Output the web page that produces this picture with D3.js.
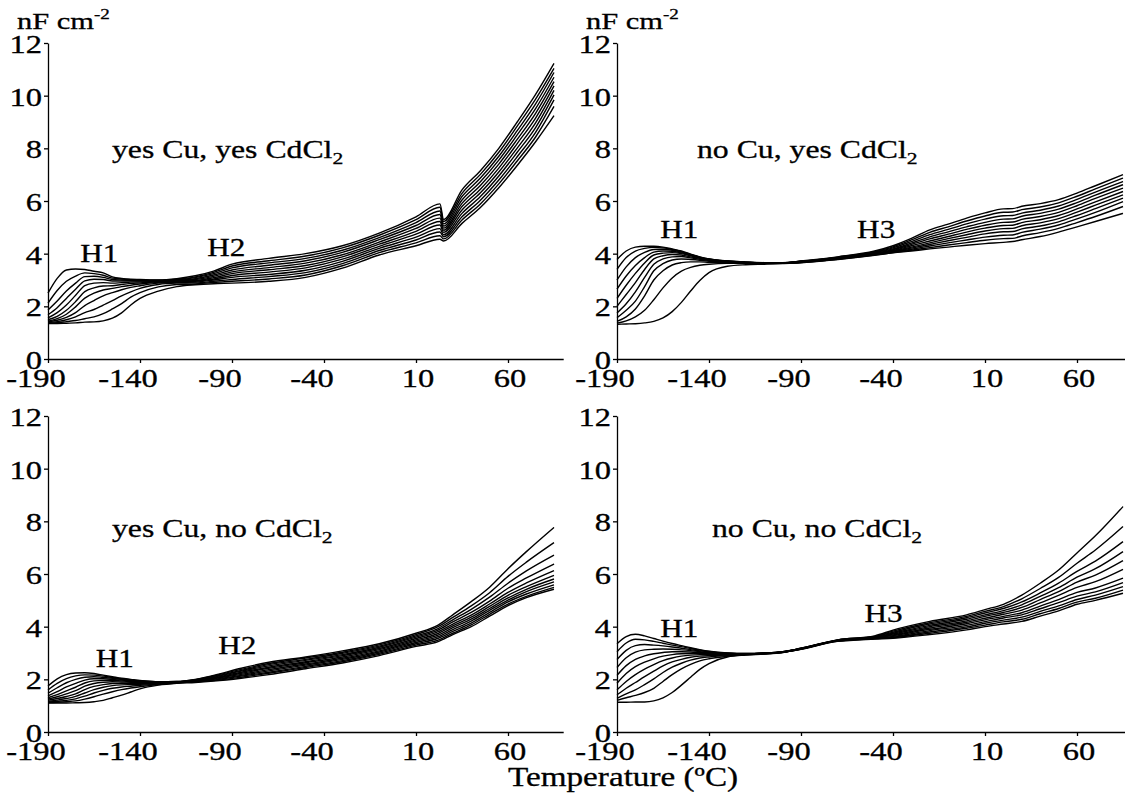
<!DOCTYPE html>
<html>
<head>
<meta charset="utf-8">
<script src="https://cdn.jsdelivr.net/npm/d3@7"></script>
<style>
  body { margin: 0; background: #fff; }
  svg { display: block; }
  text { font-family: "Liberation Serif", "Times New Roman", serif; fill: #000; stroke: #000; stroke-width: 0.3; }
</style>
</head>
<body>
<svg id="fig" width="1125" height="803"></svg>
<script>
// Axis ticks shared by all four panels
const tempTicks = [-190, -140, -90, -40, 10, 60];
const capTicks = [0, 2, 4, 6, 8, 10, 12];

// Capacitance (nF cm^-2) vs temperature (°C); each row lists the 11 frequency
// curves at one temperature, from the lowest frequency (top) to the highest.

// yes Cu, yes CdCl2
const tempYesCuYesCd = [-190,-185,-180,-175,-170,-165,-160,-155,-150,-145,-140,-130,-120,-110,-100,-90,-70,-50,-30,-10,10,23,25,35,45,55,65,75,85];
const capYesCuYesCd = [
  [2.50, 2.12, 1.86, 1.68, 1.56, 1.49, 1.44, 1.41, 1.38, 1.36, 1.35],
  [3.06, 2.60, 2.20, 1.95, 1.76, 1.62, 1.53, 1.47, 1.42, 1.38, 1.35],
  [3.38, 2.95, 2.58, 2.30, 2.05, 1.85, 1.70, 1.58, 1.49, 1.42, 1.36],
  [3.42, 3.15, 2.88, 2.65, 2.42, 2.18, 1.98, 1.76, 1.60, 1.46, 1.37],
  [3.40, 3.27, 3.13, 2.97, 2.79, 2.56, 2.31, 2.03, 1.76, 1.53, 1.40],
  [3.33, 3.24, 3.14, 3.03, 2.88, 2.70, 2.50, 2.22, 1.88, 1.60, 1.41],
  [3.27, 3.18, 3.10, 3.02, 2.90, 2.77, 2.62, 2.40, 2.05, 1.72, 1.45],
  [3.12, 3.07, 3.02, 2.96, 2.88, 2.78, 2.68, 2.52, 2.22, 1.90, 1.55],
  [3.06, 3.04, 3.00, 2.96, 2.90, 2.83, 2.75, 2.63, 2.40, 2.10, 1.75],
  [3.03, 3.01, 2.99, 2.96, 2.92, 2.87, 2.80, 2.72, 2.55, 2.35, 2.05],
  [3.02, 3.00, 2.98, 2.96, 2.93, 2.89, 2.85, 2.78, 2.68, 2.52, 2.30],
  [3.00, 2.99, 2.98, 2.97, 2.95, 2.93, 2.91, 2.88, 2.83, 2.74, 2.58],
  [3.05, 3.03, 3.01, 2.99, 2.97, 2.95, 2.93, 2.91, 2.88, 2.83, 2.75],
  [3.16, 3.12, 3.09, 3.05, 3.02, 2.98, 2.95, 2.92, 2.89, 2.85, 2.82],
  [3.34, 3.29, 3.24, 3.19, 3.14, 3.09, 3.04, 3.00, 2.95, 2.91, 2.86],
  [3.60, 3.53, 3.46, 3.38, 3.31, 3.24, 3.17, 3.10, 3.02, 2.95, 2.88],
  [3.82, 3.73, 3.65, 3.56, 3.47, 3.39, 3.30, 3.21, 3.13, 3.04, 2.95],
  [4.00, 3.91, 3.82, 3.73, 3.64, 3.55, 3.46, 3.37, 3.28, 3.19, 3.10],
  [4.30, 4.22, 4.13, 4.05, 3.96, 3.88, 3.79, 3.71, 3.62, 3.54, 3.45],
  [4.78, 4.70, 4.61, 4.53, 4.44, 4.36, 4.28, 4.20, 4.12, 4.04, 3.95],
  [5.40, 5.29, 5.18, 5.07, 4.96, 4.85, 4.74, 4.63, 4.52, 4.41, 4.30],
  [5.89, 5.76, 5.62, 5.49, 5.35, 5.22, 5.09, 4.95, 4.82, 4.68, 4.55],
  [5.30, 5.22, 5.13, 5.05, 4.97, 4.89, 4.81, 4.72, 4.64, 4.56, 4.48],
  [6.42, 6.29, 6.17, 6.04, 5.91, 5.79, 5.66, 5.53, 5.40, 5.28, 5.15],
  [7.15, 7.01, 6.87, 6.73, 6.59, 6.45, 6.31, 6.17, 6.03, 5.89, 5.75],
  [8.00, 7.85, 7.70, 7.55, 7.40, 7.25, 7.10, 6.95, 6.80, 6.65, 6.50],
  [9.00, 8.84, 8.67, 8.51, 8.34, 8.18, 8.01, 7.85, 7.68, 7.52, 7.35],
  [10.05, 9.87, 9.69, 9.51, 9.33, 9.15, 8.97, 8.79, 8.61, 8.43, 8.25],
  [11.23, 11.04, 10.88, 10.70, 10.53, 10.37, 10.20, 10.03, 9.84, 9.59, 9.24]
];

// no Cu, yes CdCl2
const tempNoCuYesCd = [-190,-185,-180,-175,-170,-165,-160,-155,-150,-145,-140,-130,-120,-110,-100,-90,-70,-50,-40,-30,-20,-10,0,10,20,25,30,40,50,60,70,85];
const capNoCuYesCd = [
  [3.78, 3.40, 3.00, 2.65, 2.30, 2.00, 1.75, 1.57, 1.43, 1.36, 1.32],
  [4.10, 3.85, 3.50, 3.15, 2.80, 2.45, 2.10, 1.85, 1.60, 1.45, 1.33],
  [4.25, 4.10, 3.85, 3.55, 3.25, 2.90, 2.55, 2.20, 1.90, 1.60, 1.34],
  [4.28, 4.20, 4.05, 3.85, 3.65, 3.40, 3.10, 2.75, 2.40, 1.85, 1.37],
  [4.28, 4.24, 4.16, 4.06, 3.95, 3.80, 3.60, 3.35, 3.00, 2.25, 1.43],
  [4.25, 4.22, 4.17, 4.10, 4.02, 3.92, 3.80, 3.62, 3.35, 2.70, 1.56],
  [4.18, 4.16, 4.13, 4.09, 4.04, 3.97, 3.88, 3.76, 3.57, 3.08, 1.80],
  [4.10, 4.08, 4.06, 4.03, 4.00, 3.95, 3.89, 3.80, 3.66, 3.34, 2.15],
  [3.98, 3.97, 3.96, 3.94, 3.92, 3.88, 3.84, 3.78, 3.69, 3.48, 2.58],
  [3.88, 3.87, 3.86, 3.85, 3.84, 3.82, 3.79, 3.75, 3.69, 3.56, 2.98],
  [3.80, 3.80, 3.79, 3.78, 3.77, 3.76, 3.74, 3.71, 3.67, 3.60, 3.28],
  [3.72, 3.72, 3.71, 3.71, 3.70, 3.70, 3.69, 3.68, 3.66, 3.63, 3.52],
  [3.68, 3.68, 3.68, 3.67, 3.67, 3.67, 3.66, 3.66, 3.65, 3.63, 3.58],
  [3.66, 3.66, 3.66, 3.65, 3.65, 3.65, 3.64, 3.64, 3.63, 3.62, 3.60],
  [3.66, 3.66, 3.65, 3.65, 3.65, 3.64, 3.64, 3.64, 3.63, 3.63, 3.62],
  [3.72, 3.71, 3.71, 3.70, 3.70, 3.69, 3.69, 3.68, 3.67, 3.66, 3.65],
  [3.88, 3.87, 3.86, 3.85, 3.84, 3.83, 3.82, 3.81, 3.80, 3.79, 3.78],
  [4.10, 4.08, 4.06, 4.04, 4.02, 4.00, 3.99, 3.98, 3.97, 3.95, 3.94],
  [4.30, 4.26, 4.22, 4.18, 4.15, 4.12, 4.10, 4.08, 4.06, 4.04, 4.03],
  [4.58, 4.52, 4.46, 4.40, 4.35, 4.30, 4.25, 4.21, 4.17, 4.13, 4.10],
  [4.90, 4.81, 4.72, 4.64, 4.56, 4.48, 4.41, 4.35, 4.29, 4.23, 4.18],
  [5.12, 5.02, 4.92, 4.83, 4.74, 4.65, 4.57, 4.49, 4.41, 4.33, 4.25],
  [5.35, 5.24, 5.13, 5.02, 4.92, 4.82, 4.72, 4.62, 4.52, 4.42, 4.32],
  [5.55, 5.43, 5.31, 5.19, 5.08, 4.97, 4.86, 4.75, 4.63, 4.51, 4.38],
  [5.70, 5.57, 5.44, 5.31, 5.19, 5.07, 4.95, 4.83, 4.70, 4.57, 4.43],
  [5.71, 5.58, 5.45, 5.32, 5.20, 5.08, 4.96, 4.84, 4.71, 4.58, 4.46],
  [5.80, 5.67, 5.54, 5.42, 5.30, 5.18, 5.06, 4.94, 4.81, 4.67, 4.53],
  [5.90, 5.77, 5.65, 5.53, 5.41, 5.29, 5.17, 5.05, 4.93, 4.80, 4.65],
  [6.05, 5.93, 5.81, 5.69, 5.57, 5.45, 5.33, 5.21, 5.09, 4.96, 4.82],
  [6.30, 6.18, 6.06, 5.94, 5.82, 5.70, 5.58, 5.45, 5.32, 5.18, 5.02],
  [6.58, 6.46, 6.34, 6.22, 6.10, 5.97, 5.84, 5.71, 5.57, 5.41, 5.22],
  [7.00, 6.87, 6.74, 6.62, 6.49, 6.36, 6.23, 6.11, 5.98, 5.79, 5.53]
];

// yes Cu, no CdCl2
const tempYesCuNoCd = [-190,-185,-180,-175,-170,-165,-160,-155,-150,-145,-140,-130,-120,-110,-100,-85,-70,-50,-30,-10,10,22,30,40,50,60,70,85];
const capYesCuNoCd = [
  [1.75, 1.60, 1.47, 1.37, 1.30, 1.25, 1.21, 1.17, 1.14, 1.12, 1.10],
  [2.02, 1.85, 1.68, 1.53, 1.42, 1.34, 1.27, 1.21, 1.17, 1.13, 1.10],
  [2.18, 2.03, 1.87, 1.71, 1.56, 1.45, 1.35, 1.27, 1.20, 1.15, 1.10],
  [2.24, 2.13, 2.00, 1.85, 1.70, 1.57, 1.45, 1.35, 1.26, 1.18, 1.11],
  [2.25, 2.17, 2.08, 1.97, 1.86, 1.74, 1.61, 1.48, 1.36, 1.25, 1.12],
  [2.22, 2.16, 2.10, 2.02, 1.94, 1.84, 1.73, 1.61, 1.48, 1.34, 1.15],
  [2.16, 2.12, 2.07, 2.02, 1.96, 1.89, 1.80, 1.70, 1.58, 1.44, 1.20],
  [2.10, 2.07, 2.04, 2.00, 1.96, 1.91, 1.84, 1.76, 1.66, 1.53, 1.30],
  [2.04, 2.02, 2.00, 1.97, 1.94, 1.90, 1.85, 1.79, 1.71, 1.61, 1.40],
  [2.00, 1.98, 1.96, 1.94, 1.92, 1.89, 1.85, 1.80, 1.74, 1.67, 1.52],
  [1.96, 1.95, 1.93, 1.92, 1.90, 1.88, 1.85, 1.81, 1.77, 1.72, 1.64],
  [1.91, 1.91, 1.90, 1.89, 1.88, 1.87, 1.86, 1.84, 1.82, 1.80, 1.78],
  [1.92, 1.92, 1.91, 1.91, 1.90, 1.90, 1.89, 1.88, 1.87, 1.86, 1.85],
  [2.00, 1.99, 1.98, 1.96, 1.95, 1.94, 1.93, 1.92, 1.91, 1.90, 1.88],
  [2.15, 2.13, 2.11, 2.08, 2.06, 2.04, 2.02, 2.00, 1.97, 1.95, 1.93],
  [2.42, 2.38, 2.34, 2.31, 2.27, 2.23, 2.19, 2.15, 2.12, 2.08, 2.04],
  [2.65, 2.60, 2.56, 2.51, 2.46, 2.42, 2.37, 2.32, 2.27, 2.23, 2.18],
  [2.85, 2.81, 2.76, 2.72, 2.67, 2.63, 2.58, 2.54, 2.49, 2.45, 2.40],
  [3.08, 3.03, 2.99, 2.94, 2.90, 2.85, 2.80, 2.76, 2.71, 2.67, 2.62],
  [3.35, 3.31, 3.26, 3.22, 3.17, 3.13, 3.08, 3.04, 2.99, 2.95, 2.90],
  [3.75, 3.70, 3.65, 3.60, 3.55, 3.50, 3.45, 3.40, 3.35, 3.30, 3.25],
  [4.06, 4.00, 3.93, 3.87, 3.81, 3.74, 3.68, 3.62, 3.56, 3.49, 3.43],
  [4.45, 4.35, 4.26, 4.18, 4.10, 4.03, 3.96, 3.89, 3.82, 3.75, 3.70],
  [4.95, 4.79, 4.66, 4.54, 4.44, 4.36, 4.29, 4.21, 4.13, 4.07, 4.00],
  [5.50, 5.29, 5.12, 4.97, 4.86, 4.77, 4.69, 4.62, 4.54, 4.47, 4.40],
  [6.20, 5.91, 5.65, 5.46, 5.30, 5.19, 5.09, 5.01, 4.94, 4.86, 4.80],
  [6.85, 6.45, 6.12, 5.85, 5.66, 5.52, 5.42, 5.33, 5.24, 5.15, 5.10],
  [7.77, 7.19, 6.72, 6.38, 6.13, 5.95, 5.81, 5.70, 5.59, 5.49, 5.42]
];

// no Cu, no CdCl2
const tempNoCuNoCd = [-190,-185,-180,-175,-170,-165,-160,-155,-150,-145,-140,-130,-120,-110,-100,-90,-70,-50,-40,-20,0,10,20,30,40,50,60,70,85];
const capNoCuNoCd = [
  [3.35, 3.05, 2.75, 2.45, 2.15, 1.85, 1.60, 1.41, 1.28, 1.20, 1.13],
  [3.62, 3.38, 3.10, 2.82, 2.52, 2.22, 1.92, 1.66, 1.45, 1.30, 1.13],
  [3.71, 3.52, 3.28, 3.03, 2.76, 2.48, 2.18, 1.88, 1.60, 1.39, 1.14],
  [3.65, 3.50, 3.32, 3.12, 2.89, 2.65, 2.39, 2.10, 1.80, 1.50, 1.14],
  [3.55, 3.44, 3.30, 3.14, 2.97, 2.78, 2.56, 2.31, 2.02, 1.66, 1.18],
  [3.45, 3.37, 3.27, 3.15, 3.02, 2.88, 2.71, 2.51, 2.26, 1.92, 1.30],
  [3.36, 3.30, 3.23, 3.14, 3.05, 2.94, 2.81, 2.66, 2.46, 2.18, 1.50],
  [3.28, 3.24, 3.18, 3.12, 3.05, 2.97, 2.88, 2.76, 2.61, 2.40, 1.78],
  [3.20, 3.17, 3.13, 3.09, 3.04, 2.98, 2.92, 2.84, 2.73, 2.57, 2.08],
  [3.13, 3.11, 3.08, 3.05, 3.02, 2.98, 2.94, 2.88, 2.81, 2.70, 2.38],
  [3.07, 3.06, 3.04, 3.02, 3.00, 2.97, 2.94, 2.90, 2.85, 2.78, 2.60],
  [3.00, 2.99, 2.99, 2.98, 2.97, 2.96, 2.94, 2.92, 2.90, 2.87, 2.85],
  [2.98, 2.98, 2.97, 2.97, 2.97, 2.96, 2.96, 2.95, 2.94, 2.93, 2.92],
  [3.00, 3.00, 2.99, 2.99, 2.99, 2.98, 2.98, 2.98, 2.97, 2.97, 2.96],
  [3.05, 3.05, 3.05, 3.04, 3.04, 3.04, 3.03, 3.03, 3.03, 3.02, 3.02],
  [3.18, 3.18, 3.17, 3.17, 3.17, 3.16, 3.16, 3.16, 3.15, 3.15, 3.14],
  [3.50, 3.50, 3.49, 3.49, 3.48, 3.48, 3.47, 3.47, 3.46, 3.45, 3.44],
  [3.65, 3.63, 3.62, 3.60, 3.59, 3.58, 3.57, 3.56, 3.55, 3.54, 3.53],
  [3.87, 3.83, 3.79, 3.75, 3.72, 3.69, 3.66, 3.63, 3.60, 3.58, 3.56],
  [4.20, 4.15, 4.10, 4.05, 4.00, 3.95, 3.90, 3.85, 3.80, 3.75, 3.70],
  [4.45, 4.39, 4.34, 4.28, 4.22, 4.17, 4.11, 4.05, 3.99, 3.94, 3.88],
  [4.65, 4.58, 4.52, 4.45, 4.39, 4.32, 4.26, 4.19, 4.13, 4.06, 4.00],
  [4.85, 4.76, 4.69, 4.61, 4.54, 4.47, 4.39, 4.33, 4.25, 4.18, 4.10],
  [5.20, 5.06, 4.94, 4.83, 4.73, 4.63, 4.53, 4.45, 4.36, 4.28, 4.20],
  [5.65, 5.45, 5.28, 5.15, 5.03, 4.90, 4.78, 4.68, 4.58, 4.49, 4.40],
  [6.15, 5.87, 5.65, 5.48, 5.33, 5.19, 5.03, 4.91, 4.79, 4.69, 4.60],
  [6.80, 6.41, 6.10, 5.88, 5.69, 5.49, 5.30, 5.16, 5.03, 4.93, 4.85],
  [7.45, 6.91, 6.49, 6.20, 5.96, 5.71, 5.47, 5.32, 5.20, 5.08, 5.00],
  [8.56, 7.80, 7.23, 6.85, 6.51, 6.18, 5.84, 5.67, 5.52, 5.39, 5.27]
];

// Peak annotations, positioned in data units (°C, nF cm^-2)
const notesYesCuYesCd = [{ text: "H1", t: -172.5, v: 3.7 }, { text: "H2", t: -103.5, v: 3.9 }];
const notesNoCuYesCd  = [{ text: "H1", t: -166.5, v: 4.6 }, { text: "H3", t: -59.5, v: 4.6 }];
const notesYesCuNoCd  = [{ text: "H1", t: -164, v: 2.47 }, { text: "H2", t: -97.5, v: 2.98 }];
const notesNoCuNoCd   = [{ text: "H1", t: -166.5, v: 3.6 }, { text: "H3", t: -55.5, v: 4.16 }];

const panelTitles = ["yes Cu, yes CdCl", "no Cu, yes CdCl", "yes Cu, no CdCl", "no Cu, no CdCl"];

// ---------------------------------------------------------------------------
const svg = d3.select("#fig");

const panels = [
  { temps: tempYesCuYesCd, rows: capYesCuYesCd, notes: notesYesCuYesCd, title: panelTitles[0], left: 48,  top: 43,  unit: true,  titleAt: [112, 158] },
  { temps: tempNoCuYesCd,  rows: capNoCuYesCd,  notes: notesNoCuYesCd,  title: panelTitles[1], left: 617, top: 43,  unit: true,  titleAt: [697, 158] },
  { temps: tempYesCuNoCd,  rows: capYesCuNoCd,  notes: notesYesCuNoCd,  title: panelTitles[2], left: 48,  top: 416, unit: false, titleAt: [112, 537] },
  { temps: tempNoCuNoCd,   rows: capNoCuNoCd,   notes: notesNoCuNoCd,   title: panelTitles[3], left: 617, top: 416, unit: false, titleAt: [712, 537] }
];

const plotW = 515.2, plotH = 316;

// serif lettering, widened horizontally
function stretched(g, x, y, size, anchor, sx) {
  return g.append("text")
    .attr("transform", `translate(${x},${y}) scale(${sx},1)`)
    .attr("font-size", size)
    .attr("text-anchor", anchor || "start");
}

panels.forEach(p => {
  const x = d3.scaleLinear().domain([-190, 90]).range([p.left, p.left + plotW]);
  const y = d3.scaleLinear().domain([0, 12]).range([p.top + plotH, p.top]);
  const g = svg.append("g");

  // axes: lines and ticks from d3, labels set in stretched serif below
  const xAxis = d3.axisBottom(x).tickValues(tempTicks).tickSize(4).tickSizeOuter(0).tickFormat("");
  const yAxis = d3.axisLeft(y).tickValues(capTicks).tickSize(4).tickSizeOuter(0).tickFormat("");
  g.append("g").attr("transform", `translate(0,${p.top + plotH})`).call(xAxis);
  g.append("g").attr("transform", `translate(${p.left},0)`).call(yAxis);
  g.selectAll(".domain, .tick line").attr("stroke", "#000").attr("stroke-width", 1.3);

  tempTicks.forEach(t => {
    stretched(g, x(t) + (t < 0 ? -12 : 2), p.top + plotH + 28, 25, "middle", 1.3).text(t);
  });
  capTicks.forEach(v => {
    stretched(g, p.left - 6, y(v) + 10, 25, "end", 1.3).text(v);
  });

  // curves: transpose rows (per temperature) into one series per frequency
  const nCurves = p.rows[0].length;
  const series = d3.range(nCurves).map(k => p.temps.map((t, i) => [t, p.rows[i][k]]));
  const line = d3.line().x(d => x(d[0])).y(d => y(d[1])).curve(d3.curveMonotoneX);
  g.append("g").selectAll("path").data(series).join("path")
    .attr("d", line)
    .attr("fill", "none")
    .attr("stroke", "#000")
    .attr("stroke-width", 1.4)
    .attr("stroke-linejoin", "round");

  // panel title with subscript
  const tt = stretched(g, p.titleAt[0], p.titleAt[1], 25, "start", 1.27);
  tt.append("tspan").text(p.title);
  tt.append("tspan").attr("font-size", 17).attr("dy", 6).text("2");

  // peak labels
  p.notes.forEach(n => {
    stretched(g, x(n.t), y(n.v), 26, "start", 1.2).text(n.text);
  });

  // unit label above the top panels
  if (p.unit) {
    const u = stretched(g, p.left - 31, 29, 24, "start", 1.27);
    u.append("tspan").text("nF cm");
    u.append("tspan").attr("font-size", 15).attr("dy", -10).text("-2");
  }
});

// shared axis title
stretched(svg, 508, 786, 27, "start", 1.23).text("Temperature (ºC)");
</script>
</body>
</html>
